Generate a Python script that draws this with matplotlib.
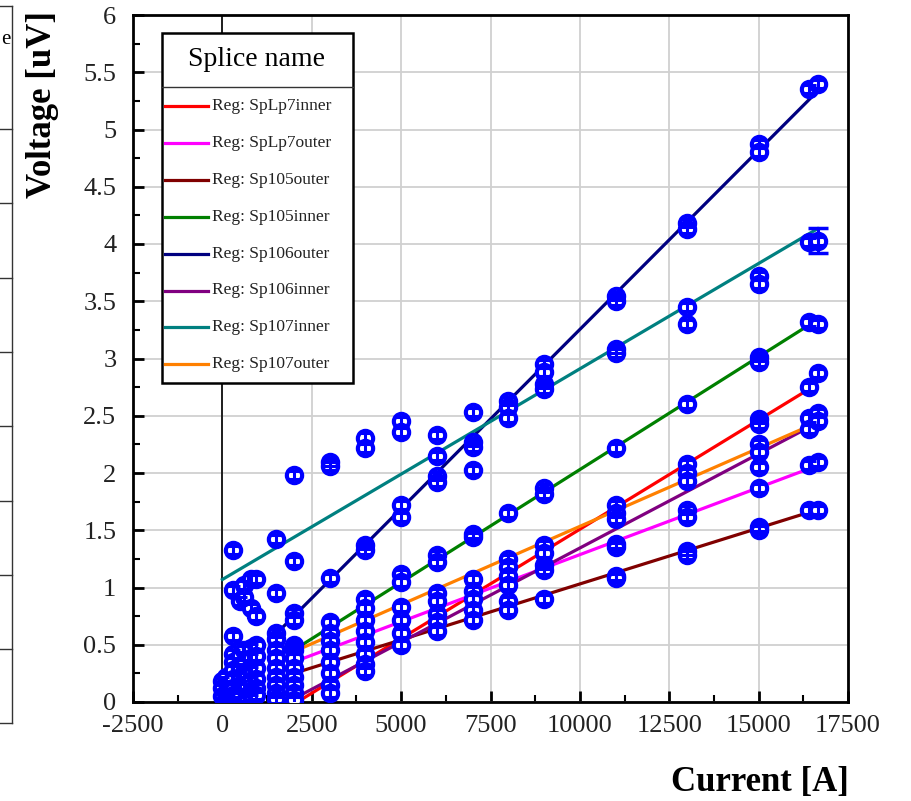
import numpy as np
import matplotlib.pyplot as plt
from matplotlib.patches import Rectangle
from matplotlib.lines import Line2D

plt.rcParams['font.family'] = ['Liberation Serif', 'DejaVu Serif']
plt.rcParams['axes.unicode_minus'] = False

# regression lines (one per splice)
splice_names = ['Reg: SpLp7inner', 'Reg: SpLp7outer', 'Reg: Sp105outer', 'Reg: Sp105inner',
                'Reg: Sp106outer', 'Reg: Sp106inner', 'Reg: Sp107inner', 'Reg: Sp107outer']
splice_colors = ['#ff0000', '#ff00ff', '#800000', '#008000',
                 '#000080', '#800080', '#008080', '#ff8000']
fit_slope = [1.909e-4, 1.171e-4, 9.76e-5, 1.97e-4, 3.13e-4, 1.645e-4, 1.84e-4, 1.367e-4]
fit_intercept = [-0.40, 0.116, 0.055, 0.06, 0.124, -0.30, 1.07, 0.167]
fit_start = [2000, 2000, 2000, 2200, 1700, 1800, 0, 2000]
fit_end = [16400, 16400, 16400, 16650, 16650, 16400, 16650, 16400]

# measured points, grouped by current step
currents = [0, 100, 300, 500, 600, 800, 950, 1500, 2000, 3000, 4000, 5000,
            6000, 7000, 8000, 9000, 11000, 13000, 15000, 16400, 16650]
voltages = [
    [0.18, 0.12, 0.05],
    [0.22, 0.08, 0.03],
    [1.33, 0.98, 0.58, 0.42, 0.35, 0.28, 0.2, 0.12, 0.06],
    [0.88, 0.4, 0.3, 0.22, 0.15, 0.08, 0.04],
    [1.02, 0.92, 0.45, 0.33, 0.25, 0.12],
    [1.07, 0.82, 0.47, 0.38, 0.27, 0.18, 0.1, 0.05],
    [1.07, 0.75, 0.5, 0.4, 0.3, 0.2, 0.12, 0.06],
    [1.42, 0.95, 0.6, 0.55, 0.45, 0.38, 0.3, 0.22, 0.15, 0.08, 0.03],
    [1.98, 1.23, 0.78, 0.72, 0.5, 0.45, 0.38, 0.3, 0.22, 0.15, 0.08, 0.02],
    [2.1, 2.06, 1.08, 0.7, 0.6, 0.53, 0.45, 0.35, 0.25, 0.15, 0.08],
    [2.31, 2.22, 1.37, 1.33, 0.9, 0.82, 0.72, 0.62, 0.52, 0.42, 0.33, 0.27],
    [2.45, 2.36, 1.72, 1.62, 1.12, 1.05, 0.83, 0.72, 0.6, 0.5],
    [2.33, 2.15, 1.97, 1.92, 1.28, 1.22, 0.95, 0.88, 0.77, 0.7, 0.62],
    [2.53, 2.27, 2.23, 2.03, 1.47, 1.44, 1.07, 0.97, 0.9, 0.8, 0.72],
    [2.63, 2.58, 2.48, 1.65, 1.25, 1.18, 1.1, 1.02, 0.88, 0.8],
    [2.95, 2.88, 2.78, 2.73, 1.87, 1.82, 1.37, 1.3, 1.2, 1.15, 0.9],
    [3.55, 3.5, 3.08, 3.05, 2.22, 1.72, 1.65, 1.6, 1.38, 1.35, 1.1, 1.08],
    [4.18, 4.13, 3.45, 3.3, 2.6, 2.08, 2.0, 1.93, 1.68, 1.62, 1.32, 1.28],
    [4.87, 4.8, 3.72, 3.65, 3.01, 2.97, 2.47, 2.43, 2.25, 2.18, 2.05, 1.87, 1.53, 1.5],
    [5.35, 4.02, 3.32, 2.75, 2.48, 2.38, 2.07, 1.68],
    [5.4, 4.03, 3.3, 2.87, 2.52, 2.45, 2.1, 1.68],
]
voltage_err = 0.035
big_err_point = (16650, 4.03, 0.11)

W, H = 912, 801
fig = plt.figure(figsize=(W / 100, H / 100), dpi=100)


def fx(px):
    return px / W


def fy(py):
    return 1 - py / H


ax = fig.add_axes([fx(133), fy(702), fx(848) - fx(133), fy(15) - fy(702)])

for name, c, m, b, x0, x1 in zip(splice_names, splice_colors, fit_slope, fit_intercept, fit_start, fit_end):
    xs = np.array([x0, x1])
    ax.plot(xs, m * xs + b, color=c, lw=2.3, zorder=3, label=name)

xx = np.concatenate([np.full(len(v), c) for c, v in zip(currents, voltages)])
yy = np.concatenate([np.array(v) for v in voltages])
ax.plot(xx, yy, 'o', ms=11, mfc='white', mec='#0000ff', mew=3, zorder=4, ls='none')
ax.errorbar(xx, yy, yerr=voltage_err, fmt='none', ecolor='#0000ff', elinewidth=2.2,
            capsize=5, capthick=2.2, zorder=5)
ax.errorbar([big_err_point[0]], [big_err_point[1]], yerr=big_err_point[2], fmt='none',
            ecolor='#0000ff', elinewidth=2.2, capsize=7, capthick=2.5, zorder=5)

ax.axvline(0, color='black', lw=1.2, zorder=2)

ax.set_xlim(-2500, 17500)
ax.set_ylim(0, 6)
ax.set_xticks(np.arange(-2500, 17501, 2500))
ax.set_xticks(np.arange(-2500, 17501, 1250), minor=True)
ax.set_yticks(np.arange(0, 6.01, 0.5))
ax.set_yticks(np.arange(0, 6.01, 0.25), minor=True)
ax.set_yticklabels([f'{v:g}' for v in np.arange(0, 6.01, 0.5)])
ax.grid(True, which='major', color='#d0d0d0', lw=1.3, zorder=0)
ax.set_axisbelow(True)
ax.tick_params(which='major', direction='in', length=8, width=2, labelsize=19,
               labelcolor='#222222', pad=9)
ax.tick_params(which='minor', direction='in', length=5, width=1.5)
ax.tick_params(axis='y', which='major', pad=12)
for s in ax.spines.values():
    s.set_linewidth(2)

fig.text(fx(43), fy(105), 'Voltage [uV]', rotation=90, ha='center', va='center',
         fontsize=25, fontweight='bold')
fig.text(fx(760), fy(783), 'Current [A]', ha='center', va='center',
         fontsize=25, fontweight='bold')

# legend box drawn by hand
fig.add_artist(Rectangle((fx(162), fy(383)), fx(353) - fx(162), fy(33) - fy(383),
                         transform=fig.transFigure, facecolor='white',
                         edgecolor='black', lw=1.8, zorder=10))
fig.add_artist(Line2D([fx(162), fx(353)], [fy(87), fy(87)], transform=fig.transFigure,
                      color='#333333', lw=1, zorder=11))
fig.text(fx(257), fy(60), 'Splice name', ha='center', va='center', fontsize=20, zorder=12)
for i, (name, c) in enumerate(zip(splice_names, splice_colors)):
    yp = 106 + i * 36.9
    fig.add_artist(Line2D([fx(165), fx(208)], [fy(yp), fy(yp)], transform=fig.transFigure,
                          color=c, lw=2.3, zorder=12))
    fig.text(fx(212), fy(yp), name, ha='left', va='center', fontsize=12.5,
             color='#222222', zorder=12)

# edge of the neighbouring panel on the left
fig.add_artist(Line2D([fx(12), fx(12)], [fy(6), fy(723)], transform=fig.transFigure,
                      color='#333333', lw=1))
for yp in [6, 129, 203, 278, 352, 426, 501, 575, 649, 723]:
    fig.add_artist(Line2D([0, fx(12)], [fy(yp), fy(yp)], transform=fig.transFigure,
                          color='#333333', lw=1))
fig.text(fx(11), fy(40), 'e', ha='right', va='center', fontsize=15)

fig.savefig('out.png', dpi=100)
